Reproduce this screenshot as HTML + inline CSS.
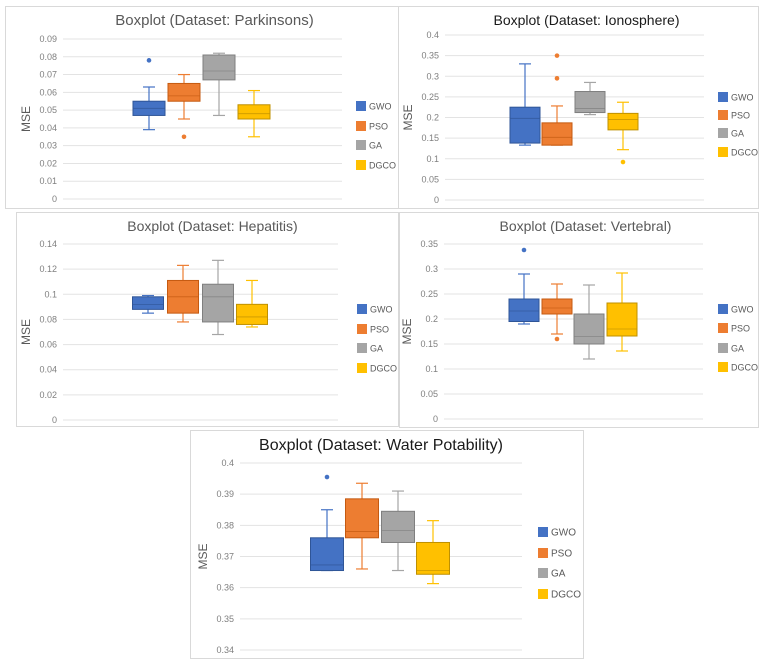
<!DOCTYPE html>
<html><head><meta charset="utf-8">
<style>
html,body{margin:0;padding:0;background:#fff;}
svg{display:block;font-family:"Liberation Sans",Arial,sans-serif;}
</style></head>
<body>
<svg id="chart" width="768" height="663" viewBox="0 0 768 663"></svg>
<script>
// Shared
const algorithms = ["GWO","PSO","GA","DGCO"];
const colors = ["#4472C4","#ED7D31","#A5A5A5","#FFC000"];
const strokes = ["#2F5597","#C55A11","#7F7F7F","#BF9000"];

// Parkinsons
const parkTicks = [0,0.01,0.02,0.03,0.04,0.05,0.06,0.07,0.08,0.09];
const parkTickLabels = ["0","0.01","0.02","0.03","0.04","0.05","0.06","0.07","0.08","0.09"];
const parkMin = [0.039,0.045,0.047,0.035];
const parkQ1 = [0.047,0.055,0.067,0.045];
const parkMed = [0.051,0.058,0.072,0.048];
const parkQ3 = [0.055,0.065,0.081,0.053];
const parkMax = [0.063,0.070,0.082,0.061];
const parkOut = [[0.078],[0.035],[],[]];

// Ionosphere
const ionoTicks = [0,0.05,0.1,0.15,0.2,0.25,0.3,0.35,0.4];
const ionoTickLabels = ["0","0.05","0.1","0.15","0.2","0.25","0.3","0.35","0.4"];
const ionoMin = [0.133,0.133,0.207,0.122];
const ionoQ1 = [0.138,0.133,0.212,0.170];
const ionoMed = [0.198,0.152,0.222,0.195];
const ionoQ3 = [0.225,0.187,0.263,0.210];
const ionoMax = [0.330,0.228,0.285,0.237];
const ionoOut = [[],[0.35,0.295],[],[0.092]];

// Hepatitis
const hepaTicks = [0,0.02,0.04,0.06,0.08,0.1,0.12,0.14];
const hepaTickLabels = ["0","0.02","0.04","0.06","0.08","0.1","0.12","0.14"];
const hepaMin = [0.085,0.078,0.068,0.074];
const hepaQ1 = [0.088,0.085,0.078,0.076];
const hepaMed = [0.092,0.098,0.098,0.082];
const hepaQ3 = [0.098,0.111,0.108,0.092];
const hepaMax = [0.099,0.123,0.127,0.111];
const hepaOut = [[],[],[],[]];

// Vertebral
const vertTicks = [0,0.05,0.1,0.15,0.2,0.25,0.3,0.35];
const vertTickLabels = ["0","0.05","0.1","0.15","0.2","0.25","0.3","0.35"];
const vertMin = [0.190,0.170,0.120,0.136];
const vertQ1 = [0.195,0.210,0.150,0.166];
const vertMed = [0.216,0.222,0.165,0.180];
const vertQ3 = [0.240,0.240,0.210,0.232];
const vertMax = [0.290,0.270,0.268,0.292];
const vertOut = [[0.338],[0.160],[],[]];

// Water Potability
const waterTicks = [0.34,0.35,0.36,0.37,0.38,0.39,0.4];
const waterTickLabels = ["0.34","0.35","0.36","0.37","0.38","0.39","0.4"];
const waterMin = [0.3655,0.366,0.3655,0.3613];
const waterQ1 = [0.3655,0.376,0.3745,0.3643];
const waterMed = [0.3673,0.378,0.3783,0.3655];
const waterQ3 = [0.376,0.3885,0.3845,0.3745];
const waterMax = [0.385,0.3935,0.391,0.3815];
const waterOut = [[0.3955],[],[],[]];

const NS="http://www.w3.org/2000/svg";
const svg=document.getElementById('chart');
function mk(tag,attrs,parent){const e=document.createElementNS(NS,tag);for(const k in attrs)e.setAttribute(k,attrs[k]);(parent||svg).appendChild(e);return e;}

const panels=[
 {key:"parkinsons",title:"Boxplot (Dataset: Parkinsons)",titleColor:"#595959",titleSize:15,frame:[5,6,393,202],plot:[63,342,39,199],tmin:0,tmax:0.09,ticks:parkTicks,labels:parkTickLabels,centers:[149,184,219,254],bw:32,legX:356,legY:[106,126,145,165],mn:parkMin,q1:parkQ1,md:parkMed,q3:parkQ3,mx:parkMax,out:parkOut},
 {key:"ionosphere",title:"Boxplot (Dataset: Ionosphere)",titleColor:"#1a1a1a",titleSize:14,frame:[398,6,360,202],plot:[445,704,35,200],tmin:0,tmax:0.4,ticks:ionoTicks,labels:ionoTickLabels,centers:[525,557,590,623],bw:30,legX:718,legY:[97,115,133,152],mn:ionoMin,q1:ionoQ1,md:ionoMed,q3:ionoQ3,mx:ionoMax,out:ionoOut},
 {key:"hepatitis",title:"Boxplot (Dataset: Hepatitis)",titleColor:"#595959",titleSize:14,frame:[16,212,382,214],plot:[63,338,244,420],tmin:0,tmax:0.14,ticks:hepaTicks,labels:hepaTickLabels,centers:[148,183,218,252],bw:31,legX:357,legY:[309,329,348,368],mn:hepaMin,q1:hepaQ1,md:hepaMed,q3:hepaQ3,mx:hepaMax,out:hepaOut},
 {key:"vertebral",title:"Boxplot (Dataset: Vertebral)",titleColor:"#595959",titleSize:14,frame:[399,212,359,215],plot:[444,703,244,419],tmin:0,tmax:0.35,ticks:vertTicks,labels:vertTickLabels,centers:[524,557,589,622],bw:30,legX:718,legY:[309,328,348,367],mn:vertMin,q1:vertQ1,md:vertMed,q3:vertQ3,mx:vertMax,out:vertOut},
 {key:"water-potability",title:"Boxplot (Dataset: Water Potability)",titleColor:"#1a1a1a",titleSize:16,frame:[190,430,393,228],plot:[240,522,463,650],tmin:0.34,tmax:0.4,ticks:waterTicks,labels:waterTickLabels,centers:[327,362,398,433],bw:33,legX:538,legY:[532,553,573,594],mn:waterMin,q1:waterQ1,md:waterMed,q3:waterQ3,mx:waterMax,out:waterOut}
];

panels.forEach(p=>{
 const g=mk('g',{});
 
 
 const [fx,fy,fw,fh]=p.frame;
 const fr=mk('rect',{x:fx+0.5,y:fy+0.5,width:fw,height:fh,fill:'#fff',stroke:'#d9d9d9','stroke-width':1},g);
 
 
 const [pl,pr,pt,pb]=p.plot;
 const y=v=>pb-(v-p.tmin)/(p.tmax-p.tmin)*(pb-pt);
 const t=mk('text',{x:(pl+pr)/2+ (p.key==='water-potability'?0:12),y:p.frame[1]+ (p.key==='water-potability'?20:19),'text-anchor':'middle','font-size':p.titleSize,fill:p.titleColor},g);
 t.textContent=p.title;
 
 
 p.ticks.forEach((v,i)=>{
  const gl=mk('line',{x1:pl,x2:pr,y1:y(v),y2:y(v),stroke:'#e3e3e3','stroke-width':1},g);
  
  
  const tl=mk('text',{x:pl-6,y:y(v)+3,'text-anchor':'end','font-size':9,fill:'#7f7f7f'},g);
  tl.textContent=p.labels[i];
  
  
 });
 const yl=mk('text',{x:0,y:0,transform:`translate(${pl-33},${(pt+pb)/2}) rotate(-90)`,'text-anchor':'middle','font-size':12,fill:'#595959'},g);
 yl.textContent='MSE';
 
 
 algorithms.forEach((a,i)=>{
  const cx=p.centers[i],hw=p.bw/2,cap=6;
  const bg=mk('g',{},g);
  
  
  const wc=colors[i];
  mk('line',{x1:cx,x2:cx,y1:y(p.mx[i]),y2:y(p.q3[i]),stroke:wc,'stroke-width':1.2},bg);
  mk('line',{x1:cx,x2:cx,y1:y(p.q1[i]),y2:y(p.mn[i]),stroke:wc,'stroke-width':1.2},bg);
  mk('line',{x1:cx-cap,x2:cx+cap,y1:y(p.mx[i]),y2:y(p.mx[i]),stroke:wc,'stroke-width':1.2},bg);
  mk('line',{x1:cx-cap,x2:cx+cap,y1:y(p.mn[i]),y2:y(p.mn[i]),stroke:wc,'stroke-width':1.2},bg);
  mk('rect',{x:cx-hw,y:y(p.q3[i]),width:p.bw,height:Math.max(1,y(p.q1[i])-y(p.q3[i])),fill:colors[i],stroke:strokes[i],'stroke-width':1},bg);
  mk('line',{x1:cx-hw,x2:cx+hw,y1:y(p.md[i]),y2:y(p.md[i]),stroke:strokes[i],'stroke-width':0.8,opacity:0.8},bg);
  p.out[i].forEach(o=>{
   const c=mk('circle',{cx:cx,cy:y(o),r:2.3,fill:colors[i]},bg);
   
   
  });
  const lg=mk('g',{},g);
  
  
  mk('rect',{x:p.legX,y:p.legY[i]-5,width:10,height:10,fill:colors[i]},lg);
  const lt=mk('text',{x:p.legX+13,y:p.legY[i]+3.5,'font-size':p.key==='water-potability'?10:9,fill:'#595959'},lg);
  lt.textContent=a;
 });
});
</script>
</body></html>
